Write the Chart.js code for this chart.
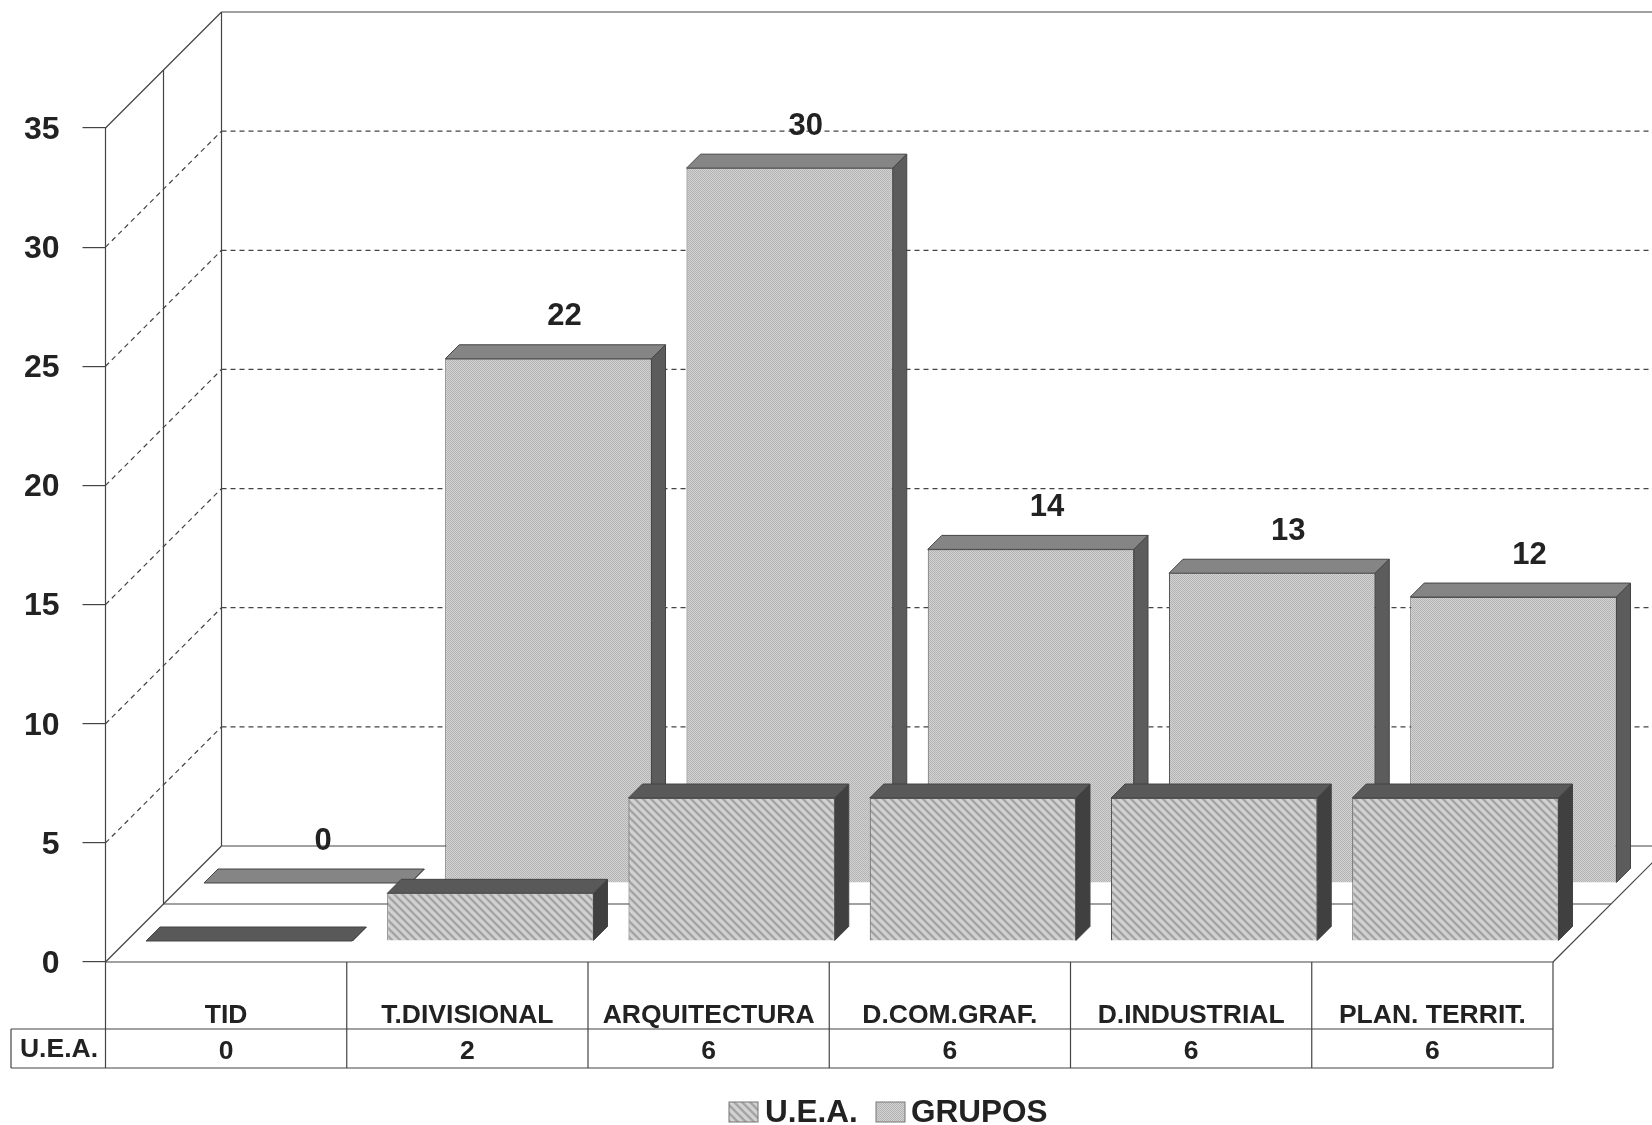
<!DOCTYPE html>
<html>
<head>
<meta charset="utf-8">
<script src="https://cdn.jsdelivr.net/npm/chart.js@4/dist/chart.umd.js"></script>
<style>
  html, body { margin: 0; padding: 0; background: #fff; }
  canvas { display: block; }
</style>
</head>
<body>
<canvas id="chart" width="1652" height="1125"></canvas>
<script>
const categories = ["TID", "T.DIVISIONAL", "ARQUITECTURA", "D.COM.GRAF.", "D.INDUSTRIAL", "PLAN. TERRIT."];
const ueaValues = [0, 2, 6, 6, 6, 6];
const gruposValues = [0, 22, 30, 14, 13, 12];
const yTicks = [0, 5, 10, 15, 20, 25, 30, 35];

const FONT = "'Liberation Sans', Arial, sans-serif";
const WALL = 116;      // depth of the floor
const BAR_DEPTH = 14;  // depth of one bar
const LINE = "#444";

function makePattern(size, paint) {
  const c = document.createElement("canvas");
  c.width = c.height = size;
  paint(c.getContext("2d"));
  return c.getContext("2d").createPattern(c, "repeat");
}

// fine dither for GRUPOS
const grain = makePattern(2, (g) => {
  g.fillStyle = "#d2d2d2";
  g.fillRect(0, 0, 2, 2);
  g.fillStyle = "#b4b4b4";
  g.fillRect(0, 0, 1, 1);
  g.fillRect(1, 1, 1, 1);
});

// diagonal hatch for U.E.A.
const hatch = makePattern(8, (g) => {
  g.fillStyle = "#d2d2d2";
  g.fillRect(0, 0, 8, 8);
  g.strokeStyle = "#a4a4a4";
  g.lineWidth = 2.4;
  for (let i = -8; i <= 8; i += 8) {
    g.beginPath();
    g.moveTo(i - 2, -2);
    g.lineTo(i + 10, 10);
    g.stroke();
  }
});

function poly(ctx, pts, fill) {
  ctx.beginPath();
  pts.forEach((p, i) => (i ? ctx.lineTo(p[0], p[1]) : ctx.moveTo(p[0], p[1])));
  ctx.closePath();
  ctx.fillStyle = fill;
  ctx.fill();
  ctx.strokeStyle = "#444";
  ctx.lineWidth = 1;
  ctx.stroke();
}

function segment(ctx, x1, y1, x2, y2) {
  ctx.beginPath();
  ctx.moveTo(x1, y1);
  ctx.lineTo(x2, y2);
  ctx.stroke();
}

const walls = {
  id: "walls",
  beforeDatasetsDraw(chart) {
    const { ctx, scales: { x, y }, width } = chart;
    const base = y.getPixelForValue(0);
    const top = y.getPixelForValue(35);
    ctx.save();
    ctx.strokeStyle = LINE;
    ctx.lineWidth = 1.2;
    segment(ctx, x.left, top, x.left + WALL, top - WALL);
    segment(ctx, x.left + WALL, top - WALL, width, top - WALL);
    segment(ctx, x.left, top, x.left, base);
    segment(ctx, x.left + WALL / 2, top - WALL / 2, x.left + WALL / 2, base - WALL / 2);
    segment(ctx, x.left + WALL, top - WALL, x.left + WALL, base - WALL);
    segment(ctx, x.left, base, x.left + WALL, base - WALL);
    segment(ctx, x.left + WALL, base - WALL, width, base - WALL);
    segment(ctx, x.left + WALL / 2, base - WALL / 2, x.right + WALL / 2, base - WALL / 2);
    segment(ctx, x.left, base, x.right, base);
    segment(ctx, x.right, base, x.right + WALL, base - WALL);
    ctx.setLineDash([5, 4]);
    yTicks.slice(1, -1).forEach((v) => {
      const py = y.getPixelForValue(v);
      segment(ctx, x.left, py, x.left + WALL, py - WALL);
      segment(ctx, x.left + WALL, py - WALL, width, py - WALL);
    });
    ctx.restore();
  },
  // data table under the floor, then the legend below it
  afterDraw(chart) {
    const { ctx, scales: { x, y } } = chart;
    const base = y.getPixelForValue(0);
    const band = (x.right - x.left) / categories.length;
    const rowTop = base + 67;
    const rowBottom = base + 106;
    ctx.save();
    ctx.strokeStyle = LINE;
    ctx.lineWidth = 1.2;
    segment(ctx, 11, rowTop, x.right, rowTop);
    segment(ctx, 11, rowBottom, x.right, rowBottom);
    segment(ctx, 11, rowTop, 11, rowBottom);
    for (let i = 0; i <= categories.length; i++) {
      segment(ctx, x.left + band * i, base, x.left + band * i, rowBottom);
    }
    ctx.fillStyle = "#222";
    ctx.font = "bold 26.5px " + FONT;
    ctx.textAlign = "center";
    ctx.textBaseline = "middle";
    ctx.fillText("U.E.A.", 59, rowTop + 21);

    [[729, 765], [876, 911]].forEach(([boxX, textX], i) => {
      const ds = chart.data.datasets[i];
      ctx.fillStyle = ds.backgroundColor;
      ctx.fillRect(boxX, 1102, 29, 20);
      ctx.strokeStyle = "#777";
      ctx.lineWidth = 1;
      ctx.strokeRect(boxX, 1102, 29, 20);
      ctx.fillStyle = "#222";
      ctx.font = "bold 31.5px " + FONT;
      ctx.textAlign = "left";
      ctx.textBaseline = "alphabetic";
      ctx.fillText(ds.label, textX, 1122);
    });
    ctx.restore();
  },
};

// extrudes each bar and pushes its series back along the floor
const extrude = {
  id: "extrude",
  beforeDatasetDraw(chart, args) {
    const { ctx } = chart;
    const ds = chart.data.datasets[args.index];
    ctx.save();
    ctx.translate(ds.depthShift + 2, -ds.depthShift);
    args.meta.data.forEach((bar) => {
      const l = bar.x - bar.width / 2;
      const r = bar.x + bar.width / 2;
      const d = BAR_DEPTH;
      poly(ctx, [[l, bar.y], [l + d, bar.y - d], [r + d, bar.y - d], [r, bar.y]], ds.topColor);
      poly(ctx, [[r, bar.y], [r + d, bar.y - d], [r + d, bar.base - d], [r, bar.base]], ds.sideColor);
    });
  },
  afterDatasetDraw(chart) {
    chart.ctx.restore();
  },
  afterDatasetsDraw(chart) {
    const { ctx } = chart;
    const ds = chart.data.datasets[1];
    ctx.save();
    ctx.fillStyle = "#222";
    ctx.font = "bold 31px " + FONT;
    ctx.textAlign = "center";
    ctx.textBaseline = "middle";
    chart.getDatasetMeta(1).data.forEach((bar, i) => {
      ctx.fillText(ds.data[i], bar.x + ds.depthShift + 18, bar.y - ds.depthShift - BAR_DEPTH - 28);
    });
    ctx.restore();
  },
};

new Chart(document.getElementById("chart"), {
  type: "bar",
  data: {
    labels: categories.map((c, i) => [c, String(ueaValues[i])]),
    datasets: [
      {
        label: "U.E.A.",
        data: ueaValues,
        backgroundColor: hatch,
        borderColor: "#555",
        borderWidth: 1,
        clip: false,
        depthShift: 21,
        topColor: "#595959",
        sideColor: "#404040",
      },
      {
        label: "GRUPOS",
        data: gruposValues,
        backgroundColor: grain,
        borderColor: "#555",
        borderWidth: 1,
        clip: false,
        depthShift: 79,
        topColor: "#858585",
        sideColor: "#5c5c5c",
      },
    ],
  },
  options: {
    responsive: false,
    devicePixelRatio: 1,
    animation: false,
    layout: { padding: { top: 128, right: 99, left: 0, bottom: 0 } },
    datasets: { bar: { grouped: false, barPercentage: 0.855, categoryPercentage: 1 } },
    plugins: {
      tooltip: { enabled: false },
      legend: { display: false },
    },
    scales: {
      x: {
        afterFit: (s) => { s.height = 163; },
        grid: { display: false },
        border: { display: false },
        ticks: {
          padding: 28,
          maxRotation: 0,
          autoSkip: false,
          color: "#222",
          font: { family: FONT, size: 26.5, weight: "bold", lineHeight: 1.36 },
        },
      },
      y: {
        min: 0,
        max: 35,
        afterFit: (s) => { s.width = 105.5; },
        afterBuildTicks: (s) => { s.ticks = yTicks.map((v) => ({ value: v })); },
        grid: { drawOnChartArea: false, drawTicks: true, tickLength: 23, color: LINE, lineWidth: 1.2 },
        border: { display: false },
        ticks: {
          padding: 23,
          labelOffset: 2,
          color: "#222",
          font: { family: FONT, size: 32, weight: "bold" },
        },
      },
    },
  },
  plugins: [walls, extrude],
});
</script>
</body>
</html>
